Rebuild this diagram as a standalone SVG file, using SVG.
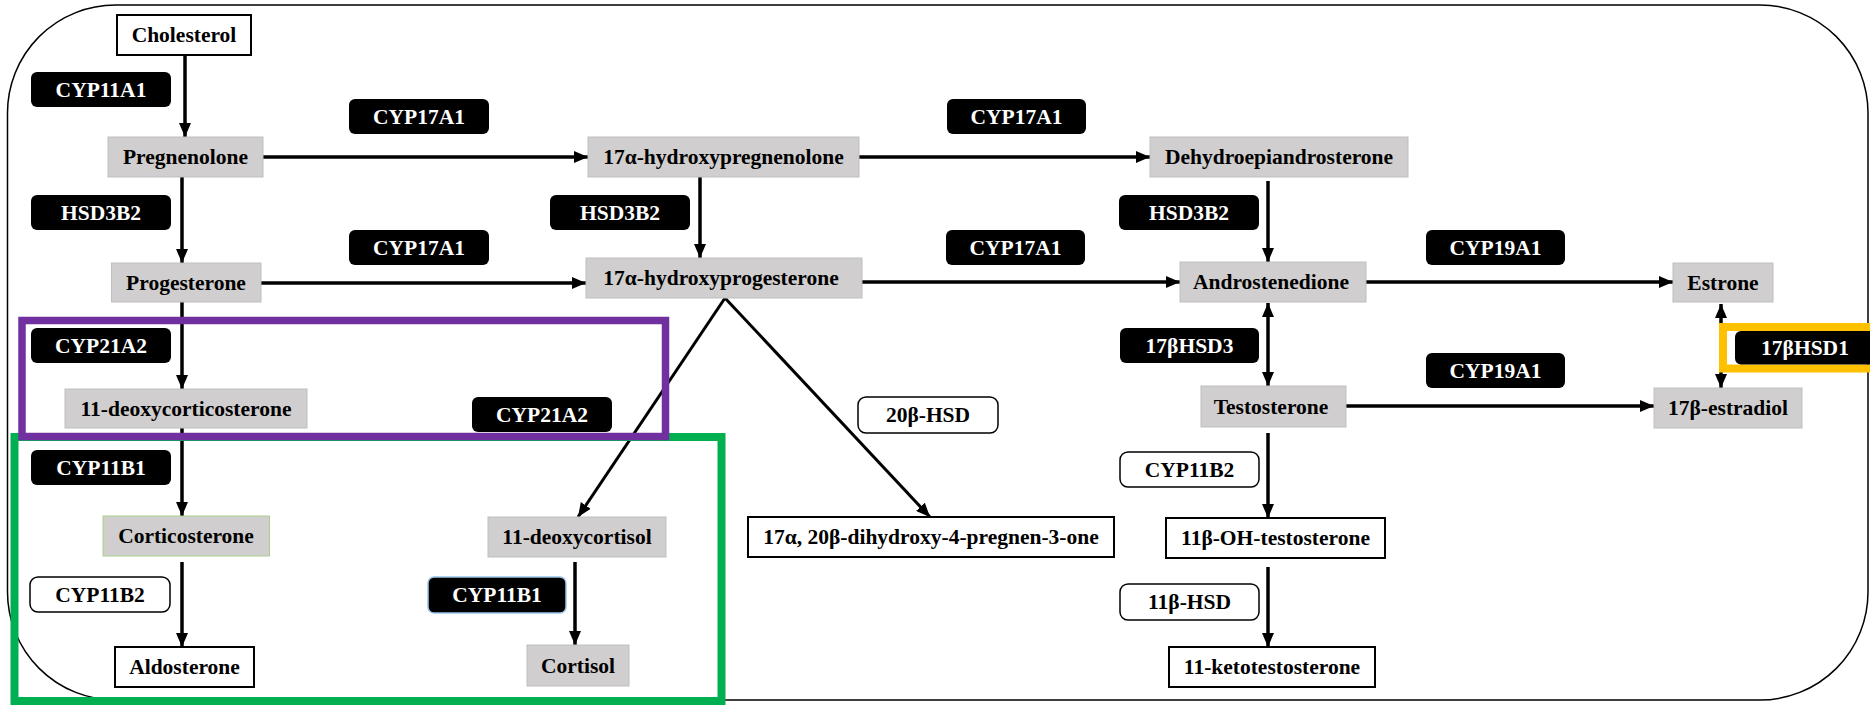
<svg xmlns="http://www.w3.org/2000/svg" width="1870" height="705" viewBox="0 0 1870 705">
<defs>
<marker id="ah" markerUnits="userSpaceOnUse" markerWidth="14" markerHeight="12" refX="14" refY="6" orient="auto-start-reverse">
<path d="M0,0 L14,6 L0,12 Z" fill="#000"/>
</marker>
<style>
text{font-family:"Liberation Serif","Times New Roman",serif;font-weight:bold;font-size:21.5px;text-anchor:middle;dominant-baseline:central}
.sub rect{fill:#d0cece;stroke:#bfbfbf;stroke-width:1}
.prod rect{fill:#fff;stroke:#000;stroke-width:2}
.enz rect{fill:#000}
.enz text{fill:#fff}
.enzw rect{fill:#fff;stroke:#000;stroke-width:1.5}
.conn line{stroke:#000;stroke-width:3.5;fill:none}
.tri line{stroke-width:3}
</style>
</defs>
<rect id="frame" x="7.5" y="5" width="1860.5" height="695" rx="108" ry="108" fill="#fff" stroke="#000" stroke-width="1.5"/>

<g id="connectors" class="conn">
<line x1="185" y1="55" x2="185" y2="137" marker-end="url(#ah)"/>
<line x1="263" y1="157" x2="588" y2="157" marker-end="url(#ah)"/>
<line x1="859" y1="157" x2="1150" y2="157" marker-end="url(#ah)"/>
<line x1="182" y1="177" x2="182" y2="263" marker-end="url(#ah)"/>
<line x1="700" y1="177" x2="700" y2="258" marker-end="url(#ah)"/>
<line x1="1268" y1="181" x2="1268" y2="262" marker-end="url(#ah)"/>
<line x1="257" y1="283" x2="586" y2="283" marker-end="url(#ah)"/>
<line x1="848" y1="282" x2="1180" y2="282" marker-end="url(#ah)"/>
<line x1="1355" y1="282" x2="1673" y2="282" marker-end="url(#ah)"/>
<line x1="1268" y1="303" x2="1268" y2="386" marker-start="url(#ah)" marker-end="url(#ah)"/>
<line x1="1721" y1="304" x2="1721" y2="388" marker-start="url(#ah)" marker-end="url(#ah)"/>
<line x1="1338" y1="406" x2="1654" y2="406" marker-end="url(#ah)"/>
<line x1="182" y1="302" x2="182" y2="389" marker-end="url(#ah)"/>
<line x1="182" y1="428" x2="182" y2="516" marker-end="url(#ah)"/>
<line x1="182" y1="562" x2="182" y2="647" marker-end="url(#ah)"/>
<g class="tri">
<line x1="725" y1="298" x2="578" y2="517" marker-end="url(#ah)"/>
<line x1="725" y1="298" x2="930" y2="517" marker-end="url(#ah)"/>
</g>
<line x1="575" y1="562" x2="575" y2="645" marker-end="url(#ah)"/>
<line x1="1268" y1="433" x2="1268" y2="518" marker-end="url(#ah)"/>
<line x1="1268" y1="567" x2="1268" y2="647" marker-end="url(#ah)"/>
</g>

<g id="highlight-frames" fill="none">
<rect x="14.5" y="437" width="707" height="264" stroke="#00b050" stroke-width="8"/>
<rect x="22" y="320.5" width="643.5" height="116" stroke="#7030a0" stroke-width="7.5"/>
<rect x="1723" y="327" width="200" height="41.5" stroke="#ffc000" stroke-width="8"/>
</g>

<g id="n-cholesterol" class="prod"><rect x="117" y="15" width="134" height="40"/><text x="184" y="35">Cholesterol</text></g>
<g id="n-pregnenolone" class="sub"><rect x="108" y="137" width="155" height="40"/><text x="185.5" y="157">Pregnenolone</text></g>
<g id="n-progesterone" class="sub"><rect x="111.5" y="263" width="149.5" height="39"/><text x="186" y="282.5">Progesterone</text></g>
<g id="n-17ohpreg" class="sub"><rect x="588" y="137" width="271" height="40"/><text x="723.5" y="157">17α-hydroxypregnenolone</text></g>
<g id="n-17ohprog" class="sub"><rect x="586" y="258" width="276" height="40"/><text x="721" y="278">17α-hydroxyprogesterone</text></g>
<g id="n-dhea" class="sub"><rect x="1150" y="137" width="258" height="40"/><text x="1279" y="157">Dehydroepiandrosterone</text></g>
<g id="n-androstenedione" class="sub"><rect x="1180" y="262" width="186" height="40"/><text x="1271" y="282">Androstenedione</text></g>
<g id="n-estrone" class="sub"><rect x="1673" y="263" width="100" height="39"/><text x="1723" y="282.5">Estrone</text></g>
<g id="n-testosterone" class="sub"><rect x="1201" y="386" width="145" height="41"/><text x="1271" y="406.5">Testosterone</text></g>
<g id="n-estradiol" class="sub"><rect x="1654" y="388" width="148" height="40"/><text x="1728" y="408">17β-estradiol</text></g>
<g id="n-11doc" class="sub"><rect x="65" y="389" width="242" height="39"/><text x="186" y="408.5">11-deoxycorticosterone</text></g>
<g id="n-corticosterone" class="sub"><rect x="103" y="516" width="166.5" height="40" style="stroke:#a9d18e"/><text x="186" y="536">Corticosterone</text></g>
<g id="n-11deoxycortisol" class="sub"><rect x="488" y="517" width="178" height="40"/><text x="577" y="537">11-deoxycortisol</text></g>
<g id="n-cortisol" class="sub"><rect x="527" y="645" width="102" height="41"/><text x="578" y="665.5">Cortisol</text></g>
<g id="n-aldosterone" class="prod"><rect x="115" y="647" width="139" height="40"/><text x="184.5" y="667">Aldosterone</text></g>
<g id="n-dihydroxy" class="prod"><rect x="748" y="517" width="366" height="40"/><text x="931" y="537">17α, 20β-dihydroxy-4-pregnen-3-one</text></g>
<g id="n-11ohtesto" class="prod"><rect x="1166" y="518" width="219" height="40"/><text x="1275.5" y="538">11β-OH-testosterone</text></g>
<g id="n-11keto" class="prod"><rect x="1169" y="647" width="206" height="40"/><text x="1272" y="667">11-ketotestosterone</text></g>

<g id="e-cyp11a1" class="enz"><rect x="31" y="72" width="140" height="35" rx="6"/><text x="101" y="89.5">CYP11A1</text></g>
<g id="e-cyp17a1-1" class="enz"><rect x="349" y="99" width="140" height="35" rx="6"/><text x="419" y="116.5">CYP17A1</text></g>
<g id="e-hsd3b2-1" class="enz"><rect x="31" y="195" width="140" height="35" rx="6"/><text x="101" y="212.5">HSD3B2</text></g>
<g id="e-cyp17a1-2" class="enz"><rect x="349" y="230" width="140" height="35" rx="6"/><text x="419" y="247.5">CYP17A1</text></g>
<g id="e-hsd3b2-2" class="enz"><rect x="550" y="195" width="140" height="35" rx="6"/><text x="620" y="212.5">HSD3B2</text></g>
<g id="e-cyp17a1-3" class="enz"><rect x="947" y="99" width="139" height="35" rx="6"/><text x="1016.5" y="116.5">CYP17A1</text></g>
<g id="e-cyp17a1-4" class="enz"><rect x="946" y="230" width="139" height="35" rx="6"/><text x="1015.5" y="247.5">CYP17A1</text></g>
<g id="e-hsd3b2-3" class="enz"><rect x="1119" y="195" width="140" height="35" rx="6"/><text x="1189" y="212.5">HSD3B2</text></g>
<g id="e-cyp19a1-1" class="enz"><rect x="1426" y="230" width="139" height="35" rx="6"/><text x="1495.5" y="247.5">CYP19A1</text></g>
<g id="e-cyp21a2-1" class="enz"><rect x="31" y="328" width="140" height="35" rx="6"/><text x="101" y="345.5">CYP21A2</text></g>
<g id="e-cyp21a2-2" class="enz"><rect x="472" y="397" width="140" height="35" rx="6"/><text x="542" y="414.5">CYP21A2</text></g>
<g id="e-cyp11b1-1" class="enz"><rect x="31" y="450" width="140" height="35" rx="6"/><text x="101" y="467.5">CYP11B1</text></g>
<g id="e-cyp11b1-2" class="enz"><rect x="428" y="577" width="138" height="36" rx="6" style="stroke:#9dc3e6;stroke-width:1.5"/><text x="497" y="595">CYP11B1</text></g>
<g id="e-17bhsd3" class="enz"><rect x="1120" y="328" width="139" height="35" rx="6"/><text x="1189.5" y="345.5">17βHSD3</text></g>
<g id="e-cyp19a1-2" class="enz"><rect x="1426" y="353" width="139" height="35" rx="6"/><text x="1495.5" y="370.5">CYP19A1</text></g>
<g id="e-17bhsd1" class="enz"><rect x="1735" y="331" width="140" height="33.5" rx="6"/><text x="1805" y="347.5">17βHSD1</text></g>

<g id="e-cyp11b2-1" class="enzw"><rect x="30" y="577" width="140" height="35" rx="8"/><text x="100" y="594.5">CYP11B2</text></g>
<g id="e-20bhsd" class="enzw"><rect x="858" y="397" width="140" height="36" rx="8"/><text x="928" y="415">20β-HSD</text></g>
<g id="e-cyp11b2-2" class="enzw"><rect x="1120" y="452" width="139" height="35" rx="8"/><text x="1189.5" y="469.5">CYP11B2</text></g>
<g id="e-11bhsd" class="enzw"><rect x="1120" y="584" width="139" height="36" rx="8"/><text x="1189.5" y="602">11β-HSD</text></g>
</svg>
